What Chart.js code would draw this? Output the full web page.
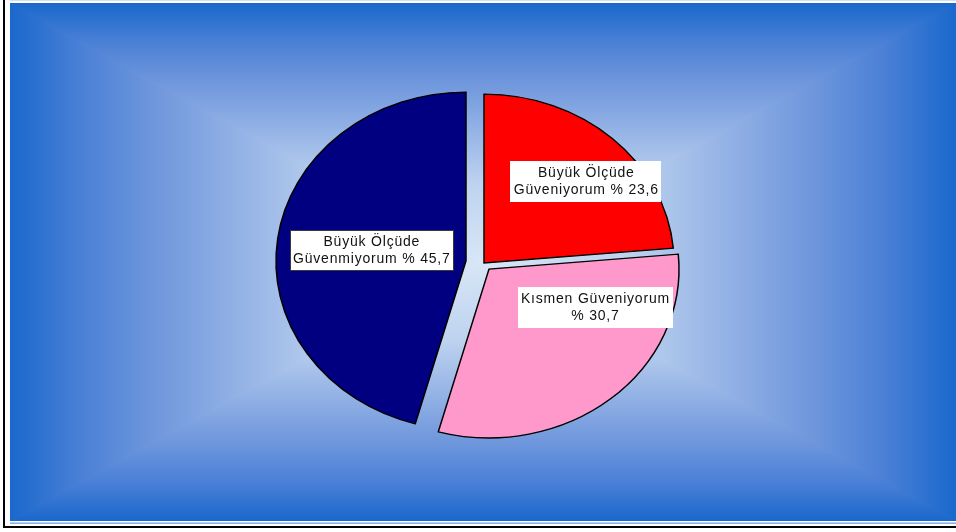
<!DOCTYPE html>
<html lang="tr">
<head>
<meta charset="UTF-8">
<title>Güven dağılımı</title>
<style>
    html, body { margin: 0; padding: 0; background: #fff; }
    #pie { display: block; }
</style>
<script src="https://cdn.jsdelivr.net/npm/chart.js"></script>
</head>
<body>
<canvas id="pie" width="956" height="532"></canvas>
<script>
// data, clockwise from 12 o'clock
const categories = ['Büyük Ölçüde Güveniyorum', 'Kısmen Güveniyorum', 'Büyük Ölçüde Güvenmiyorum'];
const shares = [23.6, 30.7, 45.7];

// look
const sliceColors = ['#ff0000', '#ff99cc', '#000080'];
const explode = [[2, -1.5], [7, 4.5], [-16, -3.5]];   // px each slice is pulled out (screen dx, dy)
const ySquash = 0.889;                                 // pie is drawn a bit flattened
const labelSpots = [[0.547, -0.437], [0.595, 0.226], [-0.582, -0.074]]; // box centre, in radii from pie centre
const boxEdges = [null, null, '#3a3a3a'];
const labelFont = '14px "Liberation Sans", Arial, sans-serif';

function fmt(v) { return '% ' + v.toFixed(1).replace('.', ','); }

function wrapWords(ctx, text, maxW) {
    const words = text.split(' ');
    const lines = [];
    let cur = '';
    words.forEach(w => {
        const test = cur ? cur + ' ' + w : w;
        if (cur && ctx.measureText(test).width > maxW) {
            lines.push(cur);
            cur = w;
        } else {
            cur = test;
        }
    });
    if (cur) lines.push(cur);
    return lines;
}

function paintBackdrop(ctx) {
    const x0 = 10, y0 = 3, x1 = 956, y1 = 521;
    const cx = (x0 + x1) / 2, cy = (y0 + y1) / 2;
    const stops = [[0, '#d8e6f6'], [0.3, '#bed3ef'], [0.5, '#96b4e6'], [0.7, '#6e96dc'], [0.85, '#4a80d6'], [1, '#1a68cc']];
    // "from centre" box gradient: four triangles, top/bottom drawn a bit wider so no seams show
    const tri = (pts, apex, gx, gy) => {
        const g = ctx.createLinearGradient(cx, cy, gx, gy);
        stops.forEach(s => g.addColorStop(s[0], s[1]));
        ctx.beginPath();
        ctx.moveTo(pts[0][0], pts[0][1]);
        ctx.lineTo(pts[1][0], pts[1][1]);
        ctx.lineTo(apex[0], apex[1]);
        ctx.closePath();
        ctx.fillStyle = g;
        ctx.fill();
    };
    ctx.save();
    ctx.beginPath();
    ctx.rect(x0, y0, x1 - x0, y1 - y0);
    ctx.clip();
    tri([[x0, y0], [x0, y1]], [cx + 2, cy], x0, cy);
    tri([[x1, y0], [x1, y1]], [cx - 2, cy], x1, cy);
    tri([[x0 - 3, y0], [x1 + 3, y0]], [cx, cy + 2], cx, y0);
    tri([[x0 - 3, y1], [x1 + 3, y1]], [cx, cy - 2], cx, y1);
    ctx.restore();

    // frame lines
    ctx.fillStyle = '#cfe0f5';
    ctx.fillRect(x0, 0, x1 - x0, 1);
    ctx.fillStyle = '#6f9ee0';
    ctx.fillRect(x0, 522.5, x1 - x0, 1.3);
    ctx.fillStyle = '#000';
    ctx.fillRect(3, 0, 2, 528);
    ctx.fillRect(3, 526, 953, 2);
}

const piePainter = {
    id: 'piePainter',
    beforeDraw(chart) {
        paintBackdrop(chart.ctx);
    },
    beforeDatasetsDraw(chart) {
        const ctx = chart.ctx;
        const arcs = chart.getDatasetMeta(0).data;

        arcs.forEach((arc, i) => {
            ctx.save();
            ctx.translate(arc.x + explode[i][0], arc.y + explode[i][1]);
            ctx.scale(1, ySquash);
            ctx.translate(-arc.x, -arc.y);
            arc.draw(ctx);
            ctx.restore();
        });

        // data labels in white boxes
        ctx.save();
        ctx.font = labelFont;
        ctx.letterSpacing = '0.8px';
        ctx.textAlign = 'center';
        ctx.textBaseline = 'middle';
        arcs.forEach((arc, i) => {
            const lines = wrapWords(ctx, categories[i] + ' ' + fmt(shares[i]), 163);
            const w = Math.max(...lines.map(l => ctx.measureText(l).width)) + 6;
            const lh = 17;
            const h = lines.length * lh + 7;
            const cx = arc.x + labelSpots[i][0] * arc.outerRadius;
            const cy = arc.y + labelSpots[i][1] * arc.outerRadius;
            const bx = Math.round(cx - w / 2), by = Math.round(cy - h / 2);
            ctx.fillStyle = '#fff';
            ctx.fillRect(bx, by, Math.round(w), h);
            if (boxEdges[i]) {
                ctx.strokeStyle = boxEdges[i];
                ctx.lineWidth = 1;
                ctx.strokeRect(bx + 0.5, by + 0.5, Math.round(w) - 1, h - 1);
            }
            ctx.fillStyle = '#111';
            lines.forEach((l, k) => {
                ctx.fillText(l, cx + 0.4, cy + (k - (lines.length - 1) / 2) * lh);
            });
        });
        ctx.restore();
        return false;
    }
};

new Chart(document.getElementById('pie'), {
    type: 'pie',
    data: {
        labels: categories,
        datasets: [{
            data: shares,
            backgroundColor: sliceColors,
            borderColor: '#000',
            borderWidth: 1.5,
            borderJoinStyle: 'miter'
        }]
    },
    options: {
        responsive: false,
        animation: false,
        events: [],
        radius: 190,
        layout: { padding: { left: 8, right: 0, top: 0, bottom: 3 } },
        plugins: {
            legend: { display: false },
            tooltip: { enabled: false }
        }
    },
    plugins: [piePainter]
});
</script>
</body>
</html>
